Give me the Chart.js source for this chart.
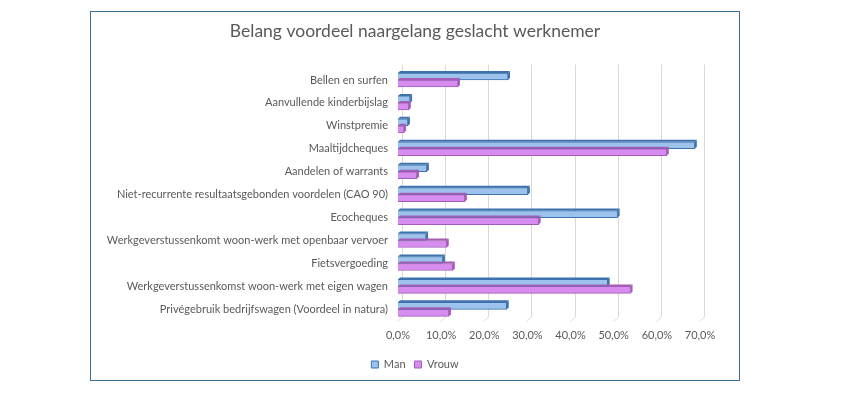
<!DOCTYPE html>
<html>
<head>
<meta charset="utf-8">
<script src="https://cdn.jsdelivr.net/npm/chart.js@4"></script>
<style>
  body { margin:0; background:#fff; }
  #box { position:absolute; left:90px; top:11px; width:648px; height:368px; border:1px solid #3e6f8e; }
</style>
</head>
<body>
<div id="box"><canvas id="benefitChart" width="648" height="368"></canvas></div>
<script>
const categories = [
  "Bellen en surfen",
  "Aanvullende kinderbijslag",
  "Winstpremie",
  "Maaltijdcheques",
  "Aandelen of warrants",
  "Niet-recurrente resultaatsgebonden voordelen (CAO 90)",
  "Ecocheques",
  "Werkgeverstussenkomt woon-werk met openbaar vervoer",
  "Fietsvergoeding",
  "Werkgeverstussenkomst woon-werk met eigen wagen",
  "Privégebruik bedrijfswagen (Voordeel in natura)"
];
const manValues   = [25.5, 2.8, 2.3, 68.8, 6.7, 30.1, 50.9, 6.5, 10.4, 48.6, 25.2];
const vrouwValues = [13.9, 2.5, 1.4, 62.3, 4.4, 15.5, 32.6, 11.3, 12.7, 53.9, 11.8];
const xTicks = [0, 10, 20, 30, 40, 50, 60, 70];

// back-wall gridlines of the excel 3d chart, a bit to the right, with floor slant
const backGrid = {
  id: "backGrid",
  beforeDatasetsDraw(chart){
    const c = chart.ctx, a = chart.chartArea, x = chart.scales.x;
    c.save();
    c.strokeStyle = "#d9d9d9";
    c.lineWidth = 1;
    xTicks.forEach(v => {
      const px = Math.round(x.getPixelForValue(v)) + 4.5;
      c.beginPath();
      c.moveTo(px, a.top - 4);
      c.lineTo(px, a.bottom - 4);
      c.lineTo(px - 5, a.bottom + 1);
      c.stroke();
    });
    c.restore();
  }
};

// fake excel 3d look: top face and right side on every bar
const depth3d = {
  id: "depth3d",
  afterDatasetsDraw(chart){
    const c = chart.ctx;
    chart.data.datasets.forEach((ds, i) => {
      chart.getDatasetMeta(i).data.forEach(bar => {
        const top = bar.y - bar.height/2, bot = bar.y + bar.height/2;
        c.save();
        c.fillStyle = ds.borderColor;
        c.beginPath();
        c.moveTo(bar.base, top); c.lineTo(bar.base+2, top-2);
        c.lineTo(bar.x+2, top-2); c.lineTo(bar.x, top); c.closePath(); c.fill();
        c.beginPath();
        c.moveTo(bar.x, top); c.lineTo(bar.x+2, top-2);
        c.lineTo(bar.x+2, bot-2); c.lineTo(bar.x, bot); c.closePath(); c.fill();
        c.restore();
      });
    });
  }
};

const ctx = document.getElementById("benefitChart");

new Chart(ctx, {
  type: "bar",
  data: {
    labels: categories,
    datasets: [
      { label:"Man", data:manValues, backgroundColor:"#9dc3ec", borderColor:"#3d72ad", borderWidth:1, barThickness:7 },
      { label:"Vrouw", data:vrouwValues, backgroundColor:"#d78cef", borderColor:"#a45cb6", borderWidth:1, barThickness:7 }
    ]
  },
  plugins: [backGrid, depth3d],
  options: {
    indexAxis: "y",
    responsive: false,
    animation: false,
    layout: { padding: { left: 0, right: 0, top: 0, bottom: 0 } },
    plugins: {
      title: {
        display: true,
        text: "Belang voordeel naargelang geslacht werknemer",
        color: "#595959",
        font: { family: "Lato", size: 17.5, weight: "normal" },
        padding: { top: 9, bottom: 26.5 }
      },
      legend: {
        position: "bottom",
        labels: {
          color: "#595959",
          font: { family: "Lato", size: 11 },
          boxWidth: 7, boxHeight: 7, padding: 9
        }
      },
      tooltip: { enabled: false }
    },
    scales: {
      x: {
        min: 0, max: 70,
        afterBuildTicks: s => { s.ticks = xTicks.map(v => ({ value: v })); },
        ticks: {
          color: "#595959",
          font: { family: "Lato", size: 11 },
          padding: 8,
          callback: v => v.toFixed(1).replace(".", ",") + "%"
        },
        grid: { display: false, drawTicks: false },
        border: { display: false }
      },
      y: {
        afterFit: s => { s.width = 307; },
        ticks: {
          color: "#595959",
          font: { family: "Lato", size: 11 },
          padding: 10
        },
        grid: { display: false, drawTicks: false },
        border: { display: false }
      },
      // empty axis on the right, only to keep the plot narrow
      spacer: {
        axis: "y",
        position: "right",
        afterFit: s => { s.width = 39; },
        ticks: { display: false },
        grid: { display: false, drawTicks: false },
        border: { display: false }
      }
    }
  }
});
</script>
</body>
</html>
